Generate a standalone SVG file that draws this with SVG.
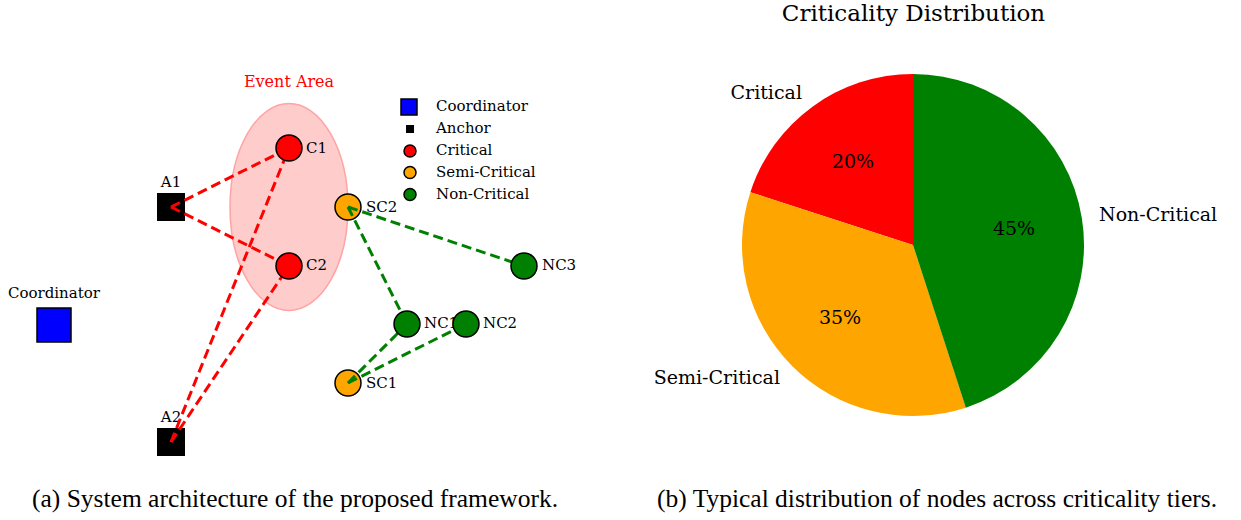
<svg xmlns="http://www.w3.org/2000/svg" width="1241" height="520" viewBox="0 0 1241 520">
<style>
.t{font-family:"DejaVu Serif",serif;fill:#000}
.lbl{font-size:15px}
.pie{font-size:19px}
.cap{font-family:"Liberation Serif","Times New Roman",serif;font-size:25.5px;fill:#000;text-anchor:middle}
.node{stroke:#000;stroke-width:1.5}
.red{stroke:#ff0000;stroke-width:3;stroke-dasharray:10 5;fill:none}
.grn{stroke:#008000;stroke-width:3;stroke-dasharray:10 5;fill:none}
</style>
<rect width="1241" height="520" fill="#fff"/>

<!-- Panel (a) -->
<g id="event-area">
<ellipse cx="289" cy="207" rx="59" ry="103.5" fill="#ffcccc" stroke="#ffa3a3" stroke-width="1.5"/>
<text class="t" x="289" y="87" font-size="16" style="fill:#ff0000" text-anchor="middle">Event Area</text>
</g>

<g id="coordinator">
<rect class="node" x="37" y="308" width="34" height="34" fill="#0000ff"/>
<text class="t lbl" x="54" y="298" text-anchor="middle">Coordinator</text>
</g>
<g id="A1">
<rect x="157" y="193" width="28" height="28" fill="#000"/>
<text class="t lbl" x="171" y="187" text-anchor="middle">A1</text>
</g>
<g id="A2">
<rect x="157" y="428" width="28" height="28" fill="#000"/>
<text class="t lbl" x="171" y="422" text-anchor="middle">A2</text>
</g>

<g id="connectors-red">
<line class="red" x1="171" y1="207" x2="289" y2="148"/>
<line class="red" x1="171" y1="207" x2="289" y2="266"/>
<line class="red" x1="171" y1="442" x2="289" y2="148"/>
<line class="red" x1="171" y1="442" x2="289" y2="266"/>
</g>

<g id="C1">
<circle class="node" cx="289" cy="148" r="13" fill="#ff0000"/>
<text class="t lbl" x="306" y="153">C1</text>
</g>
<g id="C2">
<circle class="node" cx="289" cy="266" r="13" fill="#ff0000"/>
<text class="t lbl" x="306" y="270">C2</text>
</g>
<g id="SC2">
<circle class="node" cx="348" cy="207" r="13" fill="#ffa500"/>
<text class="t lbl" x="366" y="212">SC2</text>
</g>
<g id="SC1">
<circle class="node" cx="348" cy="383" r="13" fill="#ffa500"/>
<text class="t lbl" x="366" y="388">SC1</text>
</g>

<g id="connectors-green">
<line class="grn" x1="348" y1="207" x2="524" y2="266"/>
<line class="grn" x1="348" y1="207" x2="407" y2="324"/>
<line class="grn" x1="348" y1="383" x2="407" y2="324"/>
<line class="grn" x1="348" y1="383" x2="466" y2="324"/>
</g>

<g id="NC3">
<circle class="node" cx="524" cy="266" r="13" fill="#008000"/>
<text class="t lbl" x="542" y="270">NC3</text>
</g>
<g id="NC1">
<circle class="node" cx="407" cy="324" r="13" fill="#008000"/>
<text class="t lbl" x="424" y="328">NC1</text>
</g>
<g id="NC2">
<circle class="node" cx="466" cy="324" r="13" fill="#008000"/>
<text class="t lbl" x="483" y="328">NC2</text>
</g>

<g id="legend">
<rect class="node" x="401" y="99" width="16" height="16" fill="#0000ff"/>
<rect x="406" y="125" width="8" height="8" fill="#000"/>
<circle class="node" cx="410" cy="151" r="6" fill="#ff0000"/>
<circle class="node" cx="410" cy="172.5" r="6" fill="#ffa500"/>
<circle class="node" cx="410" cy="194.5" r="6" fill="#008000"/>
<text class="t lbl" x="436" y="111">Coordinator</text>
<text class="t lbl" x="436" y="133">Anchor</text>
<text class="t lbl" x="436" y="155">Critical</text>
<text class="t lbl" x="436" y="177">Semi-Critical</text>
<text class="t lbl" x="436" y="199">Non-Critical</text>
</g>

<!-- Panel (b) -->
<g id="pie">
<text class="t" x="913.5" y="20.5" font-size="23" text-anchor="middle">Criticality Distribution</text>
<path d="M913,245 L913,74 A171,171 0 0 0 750.37,192.16 Z" fill="#ff0000"/>
<path d="M913,245 L750.37,192.16 A171,171 0 0 0 965.84,407.63 Z" fill="#ffa500"/>
<path d="M913,245 L965.84,407.63 A171,171 0 0 0 913,74 Z" fill="#008000"/>
<text class="t pie" x="802" y="99" text-anchor="end">Critical</text>
<text class="t pie" x="1099" y="221">Non-Critical</text>
<text class="t pie" x="780" y="384" text-anchor="end">Semi-Critical</text>
<text class="t pie" x="853" y="168" text-anchor="middle">20%</text>
<text class="t pie" x="1014" y="235" text-anchor="middle">45%</text>
<text class="t pie" x="840" y="324" text-anchor="middle">35%</text>
</g>

<g id="captions">
<text class="cap" x="295" y="507">(a) System architecture of the proposed framework.</text>
<text class="cap" x="937" y="507">(b) Typical distribution of nodes across criticality tiers.</text>
</g>
</svg>
